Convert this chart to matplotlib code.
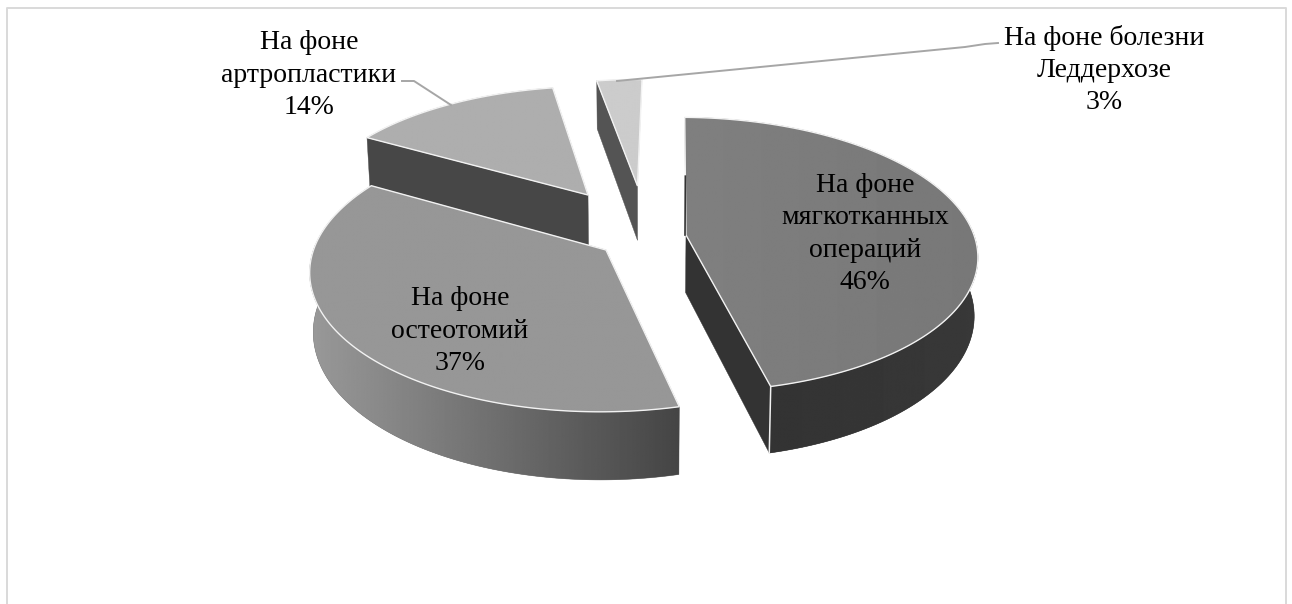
import numpy as np
import matplotlib
matplotlib.use('Agg')
import matplotlib.pyplot as plt
from matplotlib.patches import Polygon

categories = ['На фоне\nмягкотканных\nопераций', 'На фоне\nостеотомий',
              'На фоне\nартропластики', 'На фоне болезни\nЛеддерхозе']
shares = [46, 37, 14, 3]

# where each exploded slice has its tip, in pixels
tips = [(686, 235), (606, 250), (588, 195), (637.5, 186)]
label_pos = [(865, 234), (460, 331), (309, 75), (1104, 70)]

top_grey = [(0.50, 0.47), (0.59, 0.59), (0.68, 0.68), (0.80, 0.80)]
wall_grey = [(0.20, 0.22), (0.60, 0.27), (0.42, 0.42), (0.40, 0.40)]
face_grey = [0.20, 0.30, 0.28, 0.33]
# which cut face of a slice can be seen (start or end of its arc)
open_face = [1, None, 0, 0]

CX, CY = 640, 245
DEPTH = 7.0
FX, FY = 2037.0, 960.0
THICK = 58.0
ROTATION = np.radians(1.0)


def project(u, v):
    return CX + FX * u / (DEPTH - v), CY + FY * v / (DEPTH - v)


def unproject(x, y):
    dy = y - CY
    v = dy * DEPTH / (FY + dy)
    return (x - CX) * (DEPTH - v) / FX, v


def lowered(u, v):
    # same point on the underside of the disc, drawn a little closer to the centre line
    x, y = project(u, v)
    return CX + (x - CX) * 0.989, y + THICK * DEPTH / (DEPTH - v)


def rim(tip, a):
    return tip[0] + np.sin(a), tip[1] - np.cos(a)


def grey(level):
    return (level, level, level)


def shaded(ax, pts, c0, c1, z):
    # polygon filled with a left to right grey ramp
    pts = np.array(pts)
    mid = grey((c0 + c1) / 2)
    ax.add_patch(Polygon(pts, closed=True, fc=mid, ec=mid, lw=0.4, zorder=z))
    clip = Polygon(pts, closed=True, transform=ax.transData)
    im = ax.imshow(np.linspace(c0, c1, 256)[None, :], cmap='gray', vmin=0, vmax=1, aspect='auto',
                   extent=[pts[:, 0].min(), pts[:, 0].max(), pts[:, 1].max(), pts[:, 1].min()],
                   interpolation='bilinear', zorder=z)
    im.set_clip_path(clip)


fig = plt.figure(figsize=(12.92, 6.04), dpi=100)
ax = fig.add_axes([0, 0, 1, 1])
ax.axis('off')

# chart frame, open at the bottom
ax.plot([7, 7, 1286, 1286], [604, 8, 8, 604], color='#d9d9d9', lw=1.4, zorder=1)

edges = np.cumsum([0] + shares) / sum(shares) * 2 * np.pi + ROTATION

# far slices first so the near ones paint over them
for i in [3, 2, 1, 0]:
    tip = unproject(*tips[i])
    a0, a1 = edges[i], edges[i + 1]
    angles = np.linspace(a0, a1, 160)
    z = 10 + (3 - i)
    upper = [project(*rim(tip, a)) for a in angles]

    # curved outer wall, only the part of the arc facing the front
    front = angles[np.cos(angles) < 0.05]
    if len(front) > 1:
        front_up = [project(*rim(tip, a)) for a in front]
        front_low = [lowered(*rim(tip, a)) for a in front]
        shaded(ax, front_up + front_low[::-1], wall_grey[i][0], wall_grey[i][1], z)

    # the cut face turned towards the viewer
    if open_face[i] is not None:
        a = (a0, a1)[open_face[i]]
        u, v = rim(tip, a)
        quad = [project(*tip), project(u, v), lowered(u, v), lowered(*tip)]
        ax.add_patch(Polygon(quad, closed=True, fc=grey(face_grey[i]), ec=grey(face_grey[i]),
                             lw=0.3, zorder=z))

    # top face
    outline = [project(*tip)] + upper
    shaded(ax, outline, top_grey[i][0], top_grey[i][1], z)
    ax.add_patch(Polygon(outline, closed=True, fill=False, ec='#f2f2f2', lw=1.0, zorder=z))

    if i == 0:
        # corner line and the sliver of the back cut
        u1, v1 = rim(tip, a1)
        px, py = project(u1, v1)
        qx, qy = lowered(u1, v1)
        ax.plot([px, qx], [py, qy], color='#f0f0f0', lw=1.1, zorder=z)
        x0, y0 = project(*rim(tip, a0))
        x1, y1 = project(*tip)
        ax.plot([x1 + (x0 - x1) * 0.5, x1 - 1], [y1 + (y0 - y1) * 0.5, y1], color='#333333', lw=1.2, zorder=z)

# leader lines
ax.plot([402, 414, 451], [81, 81, 105], color='#a6a6a6', lw=1.4, zorder=30)
ax.plot([617, 965, 985, 998], [81, 47, 44, 43], color='#a6a6a6', lw=1.4, zorder=30)

for name, share, (x, y) in zip(categories, shares, label_pos):
    ax.text(x, y, f'{name}\n{share}%', ha='center', va='center', family='Liberation Serif',
            fontsize=20, color='black', linespacing=1.38, zorder=40)

ax.set_xlim(0, 1292)
ax.set_ylim(604, 0)
fig.savefig('out.png', dpi=100)
